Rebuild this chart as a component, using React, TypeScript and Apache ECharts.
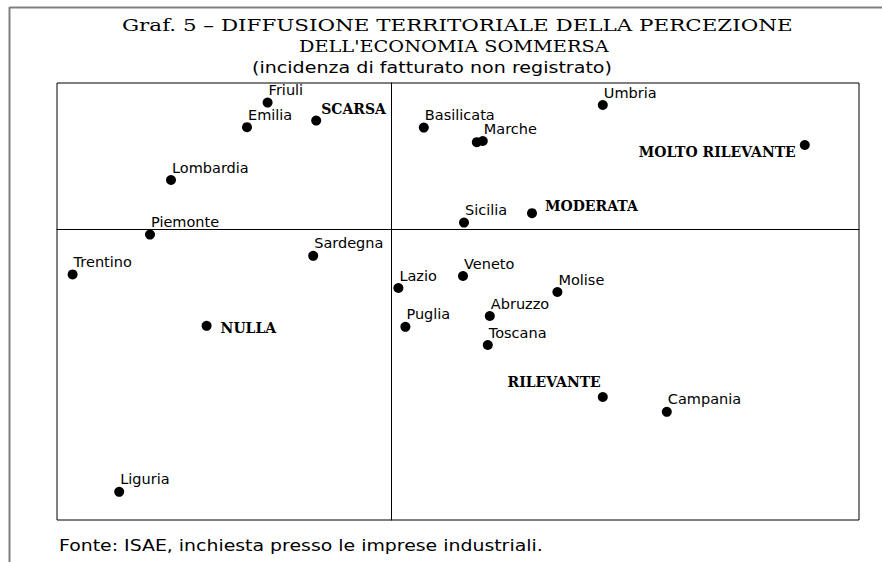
import React, { useEffect, useRef } from "react";
import * as echarts from "echarts";

// ---- Data ----
const regionNames = [
  "Friuli", "Emilia", "Lombardia", "Piemonte", "Trentino", "Sardegna", "Liguria",
  "Basilicata", "Marche", "", "Umbria", "Sicilia", "Veneto", "Lazio", "Molise",
  "Abruzzo", "Puglia", "Toscana", "Campania",
];
const regionX = [
  -0.617, -0.72, -1.1, -1.205, -1.592, -0.389, -1.359,
  0.164, 0.459, 0.429, 1.059, 0.365, 0.36, 0.037, 0.832,
  0.494, 0.072, 0.484, 1.379,
];
const regionY = [
  0.632, 0.509, 0.245, -0.028, -0.227, -0.134, -1.314,
  0.507, 0.44, 0.434, 0.62, 0.032, -0.235, -0.295, -0.315,
  -0.435, -0.489, -0.58, -0.914,
];

const categoryNames = ["SCARSA", "MODERATA", "MOLTO RILEVANTE", "NULLA", "RILEVANTE"];
const categoryX = [-0.374, 0.705, 2.069, -0.922, 1.059];
const categoryY = [0.542, 0.079, 0.42, -0.484, -0.84];

const xBounds = [-1.67, 2.34];
const yBounds = [-1.455, 0.73];

const titleLines = [
  "Graf. 5 \u2013 DIFFUSIONE TERRITORIALE DELLA PERCEZIONE",
  "DELL'ECONOMIA SOMMERSA",
];
const subtitleText = "(incidenza di fatturato non registrato)";
const footerText = "Fonte: ISAE, inchiesta presso le imprese industriali.";

// ---- Layout (kept apart from the data) ----
const categoryLabelLayout: Record<string, any> = {
  SCARSA: { position: "right", distance: 0, offset: [0, -12] },
  MODERATA: { position: "right", distance: 8, offset: [0, -7] },
  "MOLTO RILEVANTE": { position: "left", distance: 4, offset: [0, 7] },
  NULLA: { position: "right", distance: 9, offset: [0, 2] },
  RILEVANTE: { position: "top", align: "right", distance: 3, offset: [-2, 0] },
};

const SERIF = '"DejaVu Serif", serif';
const SANS = '"DejaVu Sans", sans-serif';

function measure(text: string, font: string): number {
  const ctx = document.createElement("canvas").getContext("2d");
  if (!ctx) return 1;
  ctx.font = font;
  return ctx.measureText(text).width || 1;
}

function stretchedText(text: string, left: number, right: number, y: number, font: string) {
  const w = measure(text, font);
  return {
    type: "text",
    x: left,
    y,
    scaleX: (right - left) / w,
    silent: true,
    style: {
      text,
      font,
      fill: "#000",
      textAlign: "left",
      textVerticalAlign: "middle",
    },
  };
}

function buildOption() {
  const regionData = regionNames.map((n, i) => ({
    name: n,
    value: [regionX[i], regionY[i]],
    label: { show: n !== "" },
  }));
  const categoryData = categoryNames.map((n, i) => ({
    name: n,
    value: [categoryX[i], categoryY[i]],
    label: { ...categoryLabelLayout[n] },
  }));

  return {
    animation: false,
    backgroundColor: "#ffffff",
    grid: {
      left: 57,
      top: 83,
      right: 23,
      bottom: 42,
      show: true,
      borderColor: "#000",
      borderWidth: 1,
      backgroundColor: "transparent",
    },
    xAxis: {
      type: "value",
      min: xBounds[0],
      max: xBounds[1],
      axisLine: { show: true, onZero: true, lineStyle: { color: "#000", width: 1 } },
      axisTick: { show: false },
      axisLabel: { show: false },
      splitLine: { show: false },
    },
    yAxis: {
      type: "value",
      min: yBounds[0],
      max: yBounds[1],
      axisLine: { show: true, onZero: true, lineStyle: { color: "#000", width: 1 } },
      axisTick: { show: false },
      axisLabel: { show: false },
      splitLine: { show: false },
    },
    series: [
      {
        type: "scatter",
        name: "Regioni",
        symbol: "circle",
        symbolSize: 10,
        silent: true,
        itemStyle: { color: "#000", opacity: 1 },
        label: {
          show: true,
          formatter: "{b}",
          position: "top",
          align: "left",
          distance: 0,
          offset: [1, 0],
          color: "#000",
          fontFamily: SANS,
          fontSize: 14.5,
        },
        data: regionData,
      },
      {
        type: "scatter",
        name: "Incidenza",
        symbol: "circle",
        symbolSize: 10,
        silent: true,
        itemStyle: { color: "#000", opacity: 1 },
        label: {
          show: true,
          formatter: "{b}",
          color: "#000",
          fontFamily: SERIF,
          fontWeight: "bold",
          fontSize: 14,
        },
        data: categoryData,
      },
    ],
    graphic: [
      {
        type: "line",
        silent: true,
        shape: { x1: 9.5, y1: 7.5, x2: 882, y2: 7.5 },
        style: { stroke: "#808080", lineWidth: 2 },
      },
      {
        type: "line",
        silent: true,
        shape: { x1: 9.5, y1: 7, x2: 9.5, y2: 562 },
        style: { stroke: "#808080", lineWidth: 2 },
      },
      stretchedText(titleLines[0], 122, 793, 25, `16px ${SERIF}`),
      stretchedText(titleLines[1], 299, 609, 47, `16px ${SERIF}`),
      stretchedText(subtitleText, 252, 612, 68, `15px ${SANS}`),
      stretchedText(footerText, 59, 543, 546, `15px ${SANS}`),
    ],
  };
}

export default function App() {
  const ref = useRef<HTMLDivElement>(null);
  useEffect(() => {
    if (!ref.current) return;
    const chart = echarts.init(ref.current, null, { renderer: "svg" });
    chart.setOption(buildOption() as any);
    return () => chart.dispose();
  }, []);
  return (
    <div
      ref={ref}
      style={{ position: "fixed", left: 0, top: 0, width: 882, height: 562, background: "#fff" }}
    />
  );
}
